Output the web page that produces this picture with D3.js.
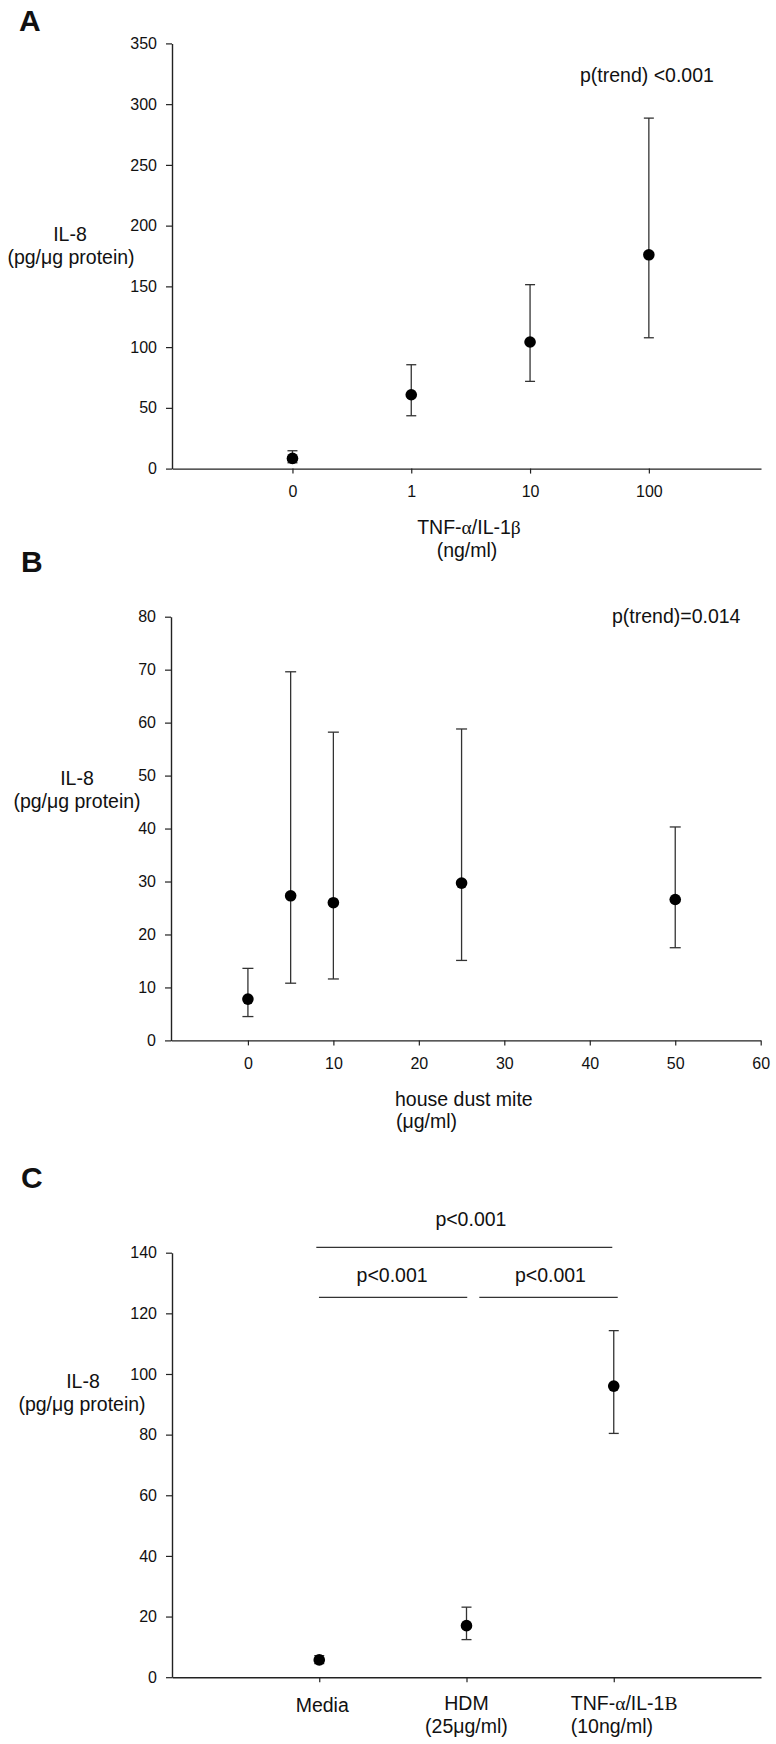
<!DOCTYPE html>
<html><head><meta charset="utf-8">
<script src="https://cdn.jsdelivr.net/npm/d3@7"></script>
<style>
body{margin:0;background:#fff}
svg{display:block}
text{font-family:"Liberation Sans",Arial,sans-serif;fill:#111}
tspan.g{font-family:"Liberation Serif","Times New Roman",serif}
</style>
</head><body>
<svg id="chart" width="776" height="1744"></svg>
<script>
// ---------- Panel A data ----------
const catsA = ["0", "1", "10", "100"];
const meanA = [8.4, 60.8, 104.2, 176];
const lowA  = [4.8, 43.5, 71.8, 107.7];
const highA = [14.7, 85.5, 151.4, 288.5];
const yTicksA = [0, 50, 100, 150, 200, 250, 300, 350];

// ---------- Panel B data ----------
const doseB = [0, 5, 10, 25, 50];
const meanB = [7.8, 27.3, 26.0, 29.7, 26.6];
const lowB  = [4.5, 10.8, 11.6, 15.1, 17.5];
const highB = [13.6, 69.6, 58.2, 58.8, 40.3];
const xTicksB = [0, 10, 20, 30, 40, 50, 60];
const yTicksB = [0, 10, 20, 30, 40, 50, 60, 70, 80];

// ---------- Panel C data ----------
const catsC = ["Media", "HDM", "TNF-α/IL-1Β"];
const subC  = ["", "(25μg/ml)", "(10ng/ml)"];
const meanC = [5.7, 17.0, 96.0];
const lowC  = [4.5, 12.4, 80.4];
const highC = [7.1, 23.1, 114.3];
const yTicksC = [0, 20, 40, 60, 80, 100, 120, 140];
const sigLabels = ["p<0.001", "p<0.001", "p<0.001"];

const svg = d3.select("#chart");
const AX = "#222";

function drawYAxis(y, ticks, x0) {
  const g = svg.append("g").attr("transform", `translate(${x0},0)`)
    .call(d3.axisLeft(y).tickValues(ticks).tickSize(6).tickPadding(9).tickSizeOuter(0));
  g.select(".domain").attr("stroke", AX).attr("stroke-width", 1.4);
  g.selectAll(".tick line").attr("stroke", AX).attr("stroke-width", 1.2);
  g.selectAll(".tick text").style("font-size", "16px").attr("fill", "#111")
    .style("font-family", '"Liberation Sans",Arial,sans-serif');
  return g;
}
function drawXAxis(x, ticks, fmt, y0, pad, showLabels) {
  const ax = d3.axisBottom(x).tickValues(ticks).tickSize(5).tickPadding(pad).tickSizeOuter(0);
  if (fmt) ax.tickFormat(fmt);
  const g = svg.append("g").attr("transform", `translate(0,${y0})`).call(ax);
  g.select(".domain").attr("stroke", AX).attr("stroke-width", 1.4);
  g.selectAll(".tick line").attr("stroke", AX).attr("stroke-width", 1.2);
  g.selectAll(".tick text").style("font-size", "16px").attr("fill", "#111")
    .style("font-family", '"Liberation Sans",Arial,sans-serif');
  if (!showLabels) g.selectAll(".tick text").remove();
  return g;
}
function drawPoints(xs, means, lows, highs, y, capW, r) {
  const g = svg.append("g");
  xs.forEach((xv, i) => {
    g.append("line").attr("x1", xv).attr("x2", xv)
      .attr("y1", y(lows[i])).attr("y2", y(highs[i]))
      .attr("stroke", "#333").attr("stroke-width", 1.3);
    [lows[i], highs[i]].forEach(v => {
      g.append("line").attr("x1", xv - capW).attr("x2", xv + capW)
        .attr("y1", y(v)).attr("y2", y(v))
        .attr("stroke", "#333").attr("stroke-width", 1.3);
    });
    g.append("circle").attr("cx", xv).attr("cy", y(means[i])).attr("r", r).attr("fill", "#000");
  });
}
function text(x, y, s, size, anchor, weight) {
  return svg.append("text").attr("x", x).attr("y", y).text(s)
    .style("font-size", size + "px").attr("text-anchor", anchor || "start")
    .style("font-weight", weight || "normal");
}
// text where Greek letters are set in a serif face (as in the original figure)
function greekText(x, y, s, size, anchor) {
  const t = svg.append("text").attr("x", x).attr("y", y)
    .style("font-size", size + "px").attr("text-anchor", anchor || "start");
  const parts = s.split(/([αβΒ])/);
  parts.forEach(p => {
    if (!p) return;
    const ts = t.append("tspan").text(p);
    if (/[αβΒ]/.test(p)) ts.attr("class", "g");
  });
  return t;
}

// ================= Panel A =================
text(19, 31, "A", 30, "start", "bold");
const yA = d3.scaleLinear().domain([0, 350]).range([468.6, 43.4]);
const xA = d3.scaleLinear().domain([-1.014, 3.944]).range([172, 761]);
drawYAxis(yA, yTicksA, 172);
drawXAxis(xA, d3.range(catsA.length), i => catsA[i], 468.6, 12, true);
drawPoints(catsA.map((c, i) => xA(i)), meanA, lowA, highA, yA, 5, 5.8);
text(70, 241, "IL-8", 19.5, "middle");
text(71, 264, "(pg/μg protein)", 19.5, "middle");
greekText(469, 534, "TNF-α/IL-1β", 19.5, "middle");
text(467, 557, "(ng/ml)", 19.5, "middle");
text(580, 82, "p(trend) <0.001", 19.5, "start");

// ================= Panel B =================
text(21, 572, "B", 30, "start", "bold");
const yB = d3.scaleLinear().domain([0, 80]).range([1040.4, 616.7]);
const xB = d3.scaleLinear().domain([-9, 60]).range([171, 760.7]);
drawYAxis(yB, yTicksB, 171);
drawXAxis(xB, xTicksB, d3.format("d"), 1040.4, 12, true);
drawPoints(doseB.map(d => xB(d)), meanB, lowB, highB, yB, 5.5, 5.8);
text(77, 785, "IL-8", 19.5, "middle");
text(77, 808, "(pg/μg protein)", 19.5, "middle");
text(395, 1106, "house dust mite", 19.5, "start");
text(396, 1128, "(μg/ml)", 19.5, "start");
text(612, 623, "p(trend)=0.014", 19.5, "start");

// ================= Panel C =================
text(21, 1188, "C", 30, "start", "bold");
const yC = d3.scaleLinear().domain([0, 140]).range([1677.2, 1252.7]);
const xC = d3.scaleLinear().domain([0, 4]).range([172, 761]);
drawYAxis(yC, yTicksC, 172);
drawXAxis(xC, [1, 2, 3], null, 1677.2, 12, false);
drawPoints([1, 2, 3].map(i => xC(i)), meanC, lowC, highC, yC, 5, 5.8);
text(83, 1388, "IL-8", 19.5, "middle");
text(82, 1411, "(pg/μg protein)", 19.5, "middle");
// category labels
text(xC(1) + 3, 1712, catsC[0], 19.5, "middle");
text(xC(2), 1710, catsC[1], 19.5, "middle");
text(xC(2), 1733, subC[1], 19.5, "middle");
greekText(xC(3) - 43, 1710, catsC[2], 19.5, "start");
text(xC(3) - 43, 1733, subC[2], 19.5, "start");
// significance brackets (positions in category units)
const sig = [
  {a: 0.98, b: 2.99, y: 1247.3, tx: 2.03, ty: 1226},
  {a: 0.998, b: 2.005, y: 1297.3, tx: 1.495, ty: 1282},
  {a: 2.087, b: 3.027, y: 1297.3, tx: 2.57, ty: 1282}
];
sig.forEach((s, i) => {
  svg.append("line").attr("x1", xC(s.a)).attr("x2", xC(s.b)).attr("y1", s.y).attr("y2", s.y)
    .attr("stroke", "#333").attr("stroke-width", 1.2);
  text(xC(s.tx), s.ty, sigLabels[i], 19.5, "middle");
});
</script>
</body></html>
